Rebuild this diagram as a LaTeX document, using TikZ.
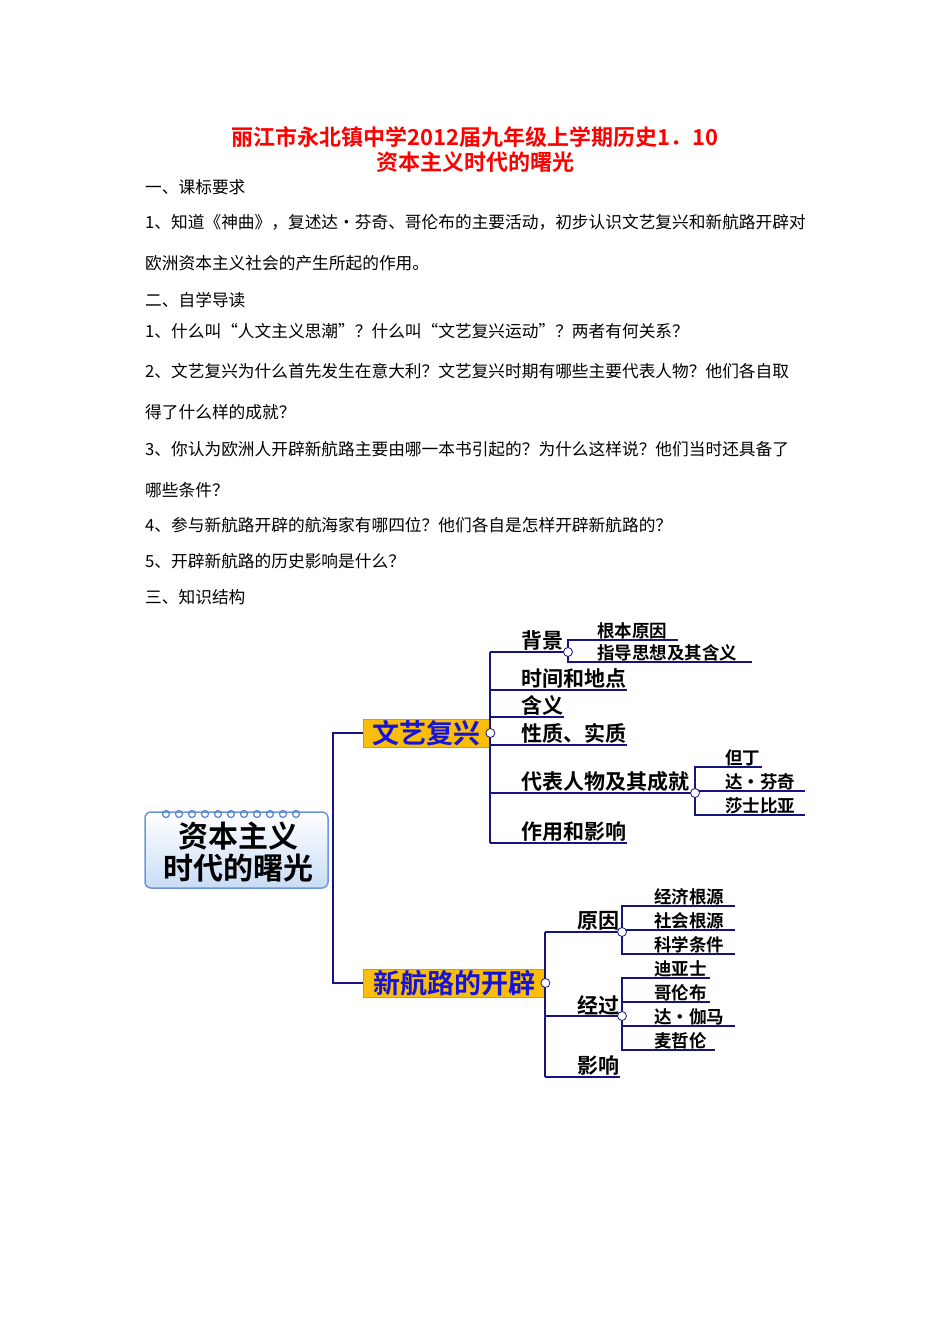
\documentclass[tikz,border=0pt]{standalone}
\usepackage{fontspec}
\setmainfont{Noto Sans CJK SC}
\newfontfamily\cjkb{Noto Sans CJK SC Bold}
\definecolor{navy}{RGB}{20,20,130}
\definecolor{ring}{RGB}{80,130,210}
\definecolor{rootedge}{RGB}{110,150,210}
\definecolor{rootfill}{RGB}{200,220,245}
\definecolor{hdrfill}{RGB}{250,190,10}
\definecolor{hdredge}{RGB}{200,160,40}
\definecolor{hdrtext}{RGB}{20,20,220}
\begin{document}
\begin{tikzpicture}[x=1pt,y=-1pt,
  body/.style={anchor=west,inner sep=0,font=\fontsize{16.7}{18}\selectfont},
  ttl/.style={anchor=center,inner sep=0,text=red,font=\cjkb\fontsize{22}{24}\selectfont},
  lab/.style={anchor=south west,inner sep=1pt,font=\cjkb\fontsize{21}{22}\selectfont},
  sub/.style={anchor=south west,inner sep=1pt,font=\cjkb\fontsize{17.5}{19}\selectfont},
  br/.style={draw=navy,line width=2.8pt},
  ln/.style={draw=navy,line width=1.6pt},
  dot/.style={circle,draw=navy,fill=white,line width=0.8pt,inner sep=0,minimum size=9pt},
  hdr/.style={fill=hdrfill,draw=hdredge,inner sep=1pt,minimum height=28pt,text=hdrtext,font=\cjkb\fontsize{27}{28}\selectfont}]
\useasboundingbox (0,0) rectangle (950,1344);
% title
\node[ttl] (t1) at (475,137) {丽江市永北镇中学2012届九年级上学期历史1．10};
\node[ttl] (t2) at (475,162) {资本主义时代的曙光};
\node[body] (s1) at (145,187) {一、课标要求};
\node[body] (p1) at (145,222) {1、知道《神曲》，复述达•芬奇、哥伦布的主要活动，初步认识文艺复兴和新航路开辟对};
\node[body] (p2) at (145,263) {欧洲资本主义社会的产生所起的作用。};
\node[body] (s2) at (145,300) {二、自学导读};
\node[body] (q1) at (145,331) {1、什么叫“人文主义思潮”？什么叫“文艺复兴运动”？两者有何关系？};
\node[body] (q2) at (145,371) {2、文艺复兴为什么首先发生在意大利？文艺复兴时期有哪些主要代表人物？他们各自取};
\node[body] (q2b) at (145,412) {得了什么样的成就？};
\node[body] (q3) at (145,449) {3、你认为欧洲人开辟新航路主要由哪一本书引起的？为什么这样说？他们当时还具备了};
\node[body] (q3b) at (145,490) {哪些条件？};
\node[body] (q4) at (145,525) {4、参与新航路开辟的航海家有哪四位？他们各自是怎样开辟新航路的？};
\node[body] (q5) at (145,561) {5、开辟新航路的历史影响是什么？};
\node[body] (s3) at (145,597) {三、知识结构};
% root
\shade[top color=white,bottom color=rootfill,draw=rootedge,line width=1.5pt,rounded corners=6pt] (145,812) rectangle (328,888);
\foreach \i in {0,...,10} \draw[ring,line width=1.2pt] (166+\i*13,814) circle (3.5);
\node[align=center,inner sep=0,font=\cjkb\fontsize{30}{32}\selectfont] (root) at (238,852) {资本主义\\时代的曙光};
% trunk
\node[hdr,anchor=west,minimum width=127pt] (wy) at (363,733) {文艺复兴};
\node[hdr,anchor=west,minimum width=182pt] (hl) at (363,983) {新航路的开辟};
\coordinate (tr) at (333,860);
\draw[br] (wy.west) -| (tr) |- (hl.west);
% renaissance
\coordinate (va) at (490,652); \coordinate (vb) at (490,843);
\draw[ln] (va) -- (vb);
\node[dot] (wyd) at (wy.east) {};
\node[lab] (bj) at (520,652) {背景};
\node[lab] (sj) at (520,690) {时间和地点};
\node[lab] (hy) at (520,717) {含义};
\node[lab] (xz) at (520,745) {性质、实质};
\node[lab] (db) at (520,793) {代表人物及其成就};
\node[lab] (zy) at (520,843) {作用和影响};
\draw[ln] (va) -- (568,652);
\draw[ln] (490,690) -- (sj.south east);
\draw[ln] (490,717) -- (hy.south east);
\draw[ln] (490,745) -- (xz.south east);
\draw[ln] (490,793) -- (695,793);
\draw[ln] (vb) -- (zy.south east);
\node[sub] (g1) at (596,640) {根本原因};
\node[sub] (g2) at (596,662) {指导思想及其含义};
\draw[ln] (678,640) -- (568,640) -- (568,662) -- (752,662);
\node[dot] (bjd) at (568,652) {};
\node[sub] (r1) at (724,767) {但丁};
\node[sub] (r2) at (724,791) {达·芬奇};
\node[sub] (r3) at (724,815) {莎士比亚};
\draw[ln] (762,767) -- (695,767) -- (695,815) -- (805,815);
\draw[ln] (695,791) -- (805,791);
\node[dot] (dbd) at (695,793) {};
% new routes
\coordinate (ha) at (545,932); \coordinate (hb) at (545,1077);
\draw[ln] (ha) -- (hb);
\node[dot] (hld) at (hl.east) {};
\node[lab] (yy) at (576,932) {原因};
\node[lab] (jg) at (576,1016) {经过};
\node[lab] (yx) at (576,1077) {影响};
\draw[ln] (ha) -- (622,932);
\draw[ln] (545,1016) -- (622,1016);
\draw[ln] (hb) -- (yx.south east);
\node[sub] (e1) at (653,906) {经济根源};
\node[sub] (e2) at (653,930) {社会根源};
\node[sub] (e3) at (653,954) {科学条件};
\draw[ln] (735,906) -- (622,906) -- (622,954) -- (735,954);
\draw[ln] (622,930) -- (735,930);
\node[dot] (yyd) at (622,932) {};
\node[sub] (n1) at (653,978) {迪亚士};
\node[sub] (n2) at (653,1002) {哥伦布};
\node[sub] (n3) at (653,1026) {达·伽马};
\node[sub] (n4) at (653,1050) {麦哲伦};
\draw[ln] (710,978) -- (622,978) -- (622,1050) -- (715,1050);
\draw[ln] (622,1002) -- (710,1002);
\draw[ln] (622,1026) -- (735,1026);
\node[dot] (jgd) at (622,1016) {};
\end{tikzpicture}
\end{document}
